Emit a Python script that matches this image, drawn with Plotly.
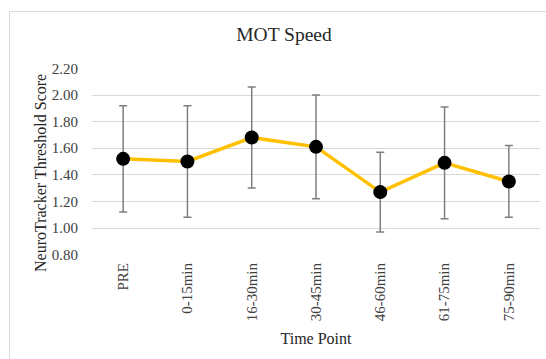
import plotly.graph_objects as go

# MOT speed threshold scores over the session
time_points = ["PRE", "0-15min", "16-30min", "30-45min", "46-60min", "61-75min", "75-90min"]
mean_score = [1.52, 1.50, 1.68, 1.61, 1.27, 1.49, 1.35]
sd_score = [0.40, 0.42, 0.38, 0.39, 0.30, 0.42, 0.27]
y_ticks = [0.80, 1.00, 1.20, 1.40, 1.60, 1.80, 2.00, 2.20]

W, H = 546, 359
ML, MR, MT, MB = 92, 6, 68, 104
PW, PH = W - ML - MR, H - MT - MB

serif = "Liberation Serif, Times New Roman, serif"

fig = go.Figure()
fig.add_trace(go.Scatter(
    x=time_points,
    y=mean_score,
    mode="lines+markers",
    line=dict(color="#FFC000", width=3.5),
    marker=dict(color="black", size=14),
    error_y=dict(type="data", array=sd_score, symmetric=True,
                 color="#7f7f7f", thickness=1.5, width=4),
    showlegend=False,
))


def px_to_paper_x(px):
    return (px - ML) / PW


def px_to_paper_y(py):
    return (H - MB - py) / PH


fig.update_layout(
    width=W, height=H,
    margin=dict(l=ML, r=MR, t=MT, b=MB),
    paper_bgcolor="white",
    plot_bgcolor="white",
    font=dict(family=serif, color="#404040", size=15),
    title=dict(text="MOT Speed", x=284 / W, xanchor="center", xref="container",
               y=1 - 34 / H, yanchor="middle",
               font=dict(family=serif, size=19.5, color="#262626")),
    xaxis=dict(
        tickangle=-90,
        showgrid=False,
        showline=False,
        ticks="",
        ticklabelstandoff=4,
        tickfont=dict(family=serif, size=15, color="#404040"),
        title=dict(text="Time Point", standoff=12,
                   font=dict(family=serif, size=16, color="#262626")),
    ),
    yaxis=dict(
        range=[0.797, 2.203],
        tickvals=y_ticks,
        ticktext=[f"{v:.2f}" for v in y_ticks],
        showgrid=True,
        gridcolor="#d9d9d9",
        gridwidth=1,
        zeroline=False,
        showline=False,
        ticks="",
        ticklabelstandoff=13,
        tickfont=dict(family=serif, size=15, color="#404040"),
    ),
    annotations=[dict(
        text="NeuroTracker Threshold Score",
        textangle=-90,
        xref="paper", yref="paper",
        x=px_to_paper_x(40), y=px_to_paper_y(173),
        xanchor="center", yanchor="middle",
        showarrow=False,
        font=dict(family=serif, size=16, color="#262626"),
    )],
    shapes=[dict(
        type="rect", xref="paper", yref="paper",
        x0=px_to_paper_x(9.5), x1=px_to_paper_x(W + 2),
        y0=px_to_paper_y(H + 2), y1=px_to_paper_y(11.5),
        line=dict(color="#d9d9d9", width=1),
        fillcolor="rgba(0,0,0,0)",
        layer="below",
    )],
)

fig.write_html("out.html")
